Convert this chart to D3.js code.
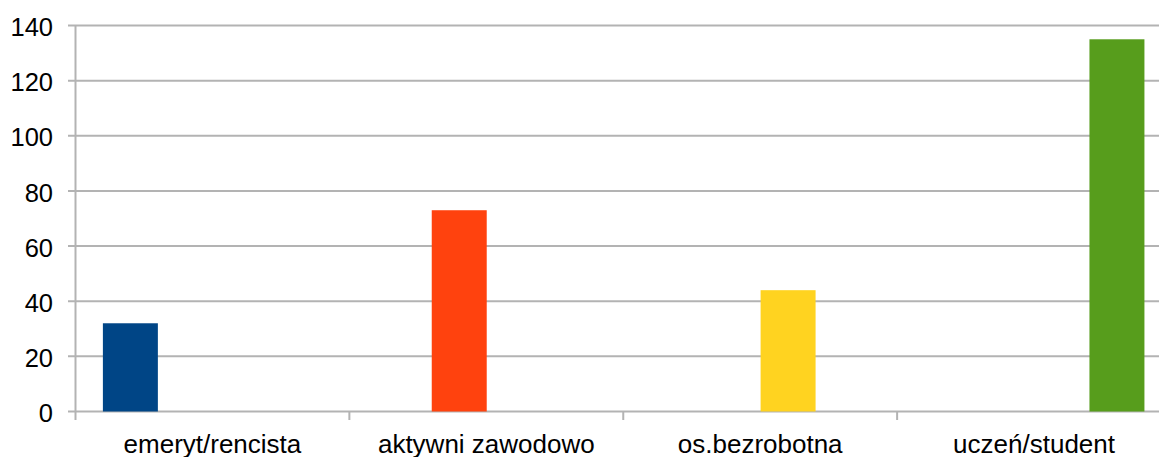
<!DOCTYPE html>
<html><head><meta charset="utf-8">
<script src="https://cdn.jsdelivr.net/npm/d3@7"></script>
<style>body{margin:0;background:#fff}svg{display:block}text{font-family:"Liberation Sans",Arial,sans-serif;fill:#000}</style>
</head><body><svg id="c" width="1159" height="457"></svg>
<script>
const categories = ["emeryt/rencista","aktywni zawodowo","os.bezrobotna","uczeń/student"];
const seriesNames = ["emeryt/rencista","aktywni zawodowo","os.bezrobotna","uczeń/student"];
const seriesColors = ["#004586","#ff420e","#ffd320","#579d1c"];
// values[s][c]: series s in category c
const values = [
  [32, 0, 0, 0],
  [0, 73, 0, 0],
  [0, 0, 44, 0],
  [0, 0, 0, 135]
];
const yTicks = [0,20,40,60,80,100,120,140];

const svg = d3.select("#c");
const pLeft = 75.5, pRight = 1171, pTop = 25.5, pBottom = 411.5;
const x0 = d3.scaleBand().domain(categories).range([pLeft, pRight]);
const bw = x0.bandwidth();
const x1 = d3.scaleBand().domain(seriesNames).range([bw*0.1, bw*0.1 + bw*0.803]);
const y = d3.scaleLinear().domain([0,140]).range([pBottom, pTop]);

// gridlines
svg.append("g").selectAll("line").data(yTicks).join("line")
  .attr("x1", 68).attr("x2", 1159)
  .attr("y1", d=>y(d)).attr("y2", d=>y(d))
  .attr("stroke", "#b3b3b3").attr("stroke-width", 2);

// y axis line
svg.append("line").attr("x1", pLeft).attr("x2", pLeft).attr("y1", pTop).attr("y2", 420)
  .attr("stroke", "#b3b3b3").attr("stroke-width", 2);

// x ticks at band boundaries
const bounds = categories.map(c => x0(c));
svg.append("g").selectAll("line").data(bounds.slice(1)).join("line")
  .attr("x1", d=>d).attr("x2", d=>d).attr("y1", pBottom).attr("y2", 420)
  .attr("stroke", "#b3b3b3").attr("stroke-width", 2);

// bars
const data = [];
seriesNames.forEach((s, si) => categories.forEach((c, ci) => {
  if (values[si][ci] > 0) data.push({s, c, v: values[si][ci], color: seriesColors[si]});
}));
svg.append("g").selectAll("rect").data(data).join("rect")
  .attr("x", d => x0(d.c) + x1(d.s))
  .attr("width", x1.bandwidth())
  .attr("y", d => y(d.v))
  .attr("height", d => y(0) - y(d.v))
  .attr("fill", d => d.color);

// y labels
svg.append("g").selectAll("text").data(yTicks).join("text")
  .attr("x", 53).attr("y", d => y(d)).attr("dy", "0.42em")
  .attr("text-anchor", "end").attr("font-size", 25.5).text(d => d);

// x labels
svg.append("g").selectAll("text").data(categories).join("text")
  .attr("x", d => x0(d) + bw/2).attr("y", 453)
  .attr("text-anchor", "middle").attr("font-size", 26).text(d => d);
</script></body></html>
